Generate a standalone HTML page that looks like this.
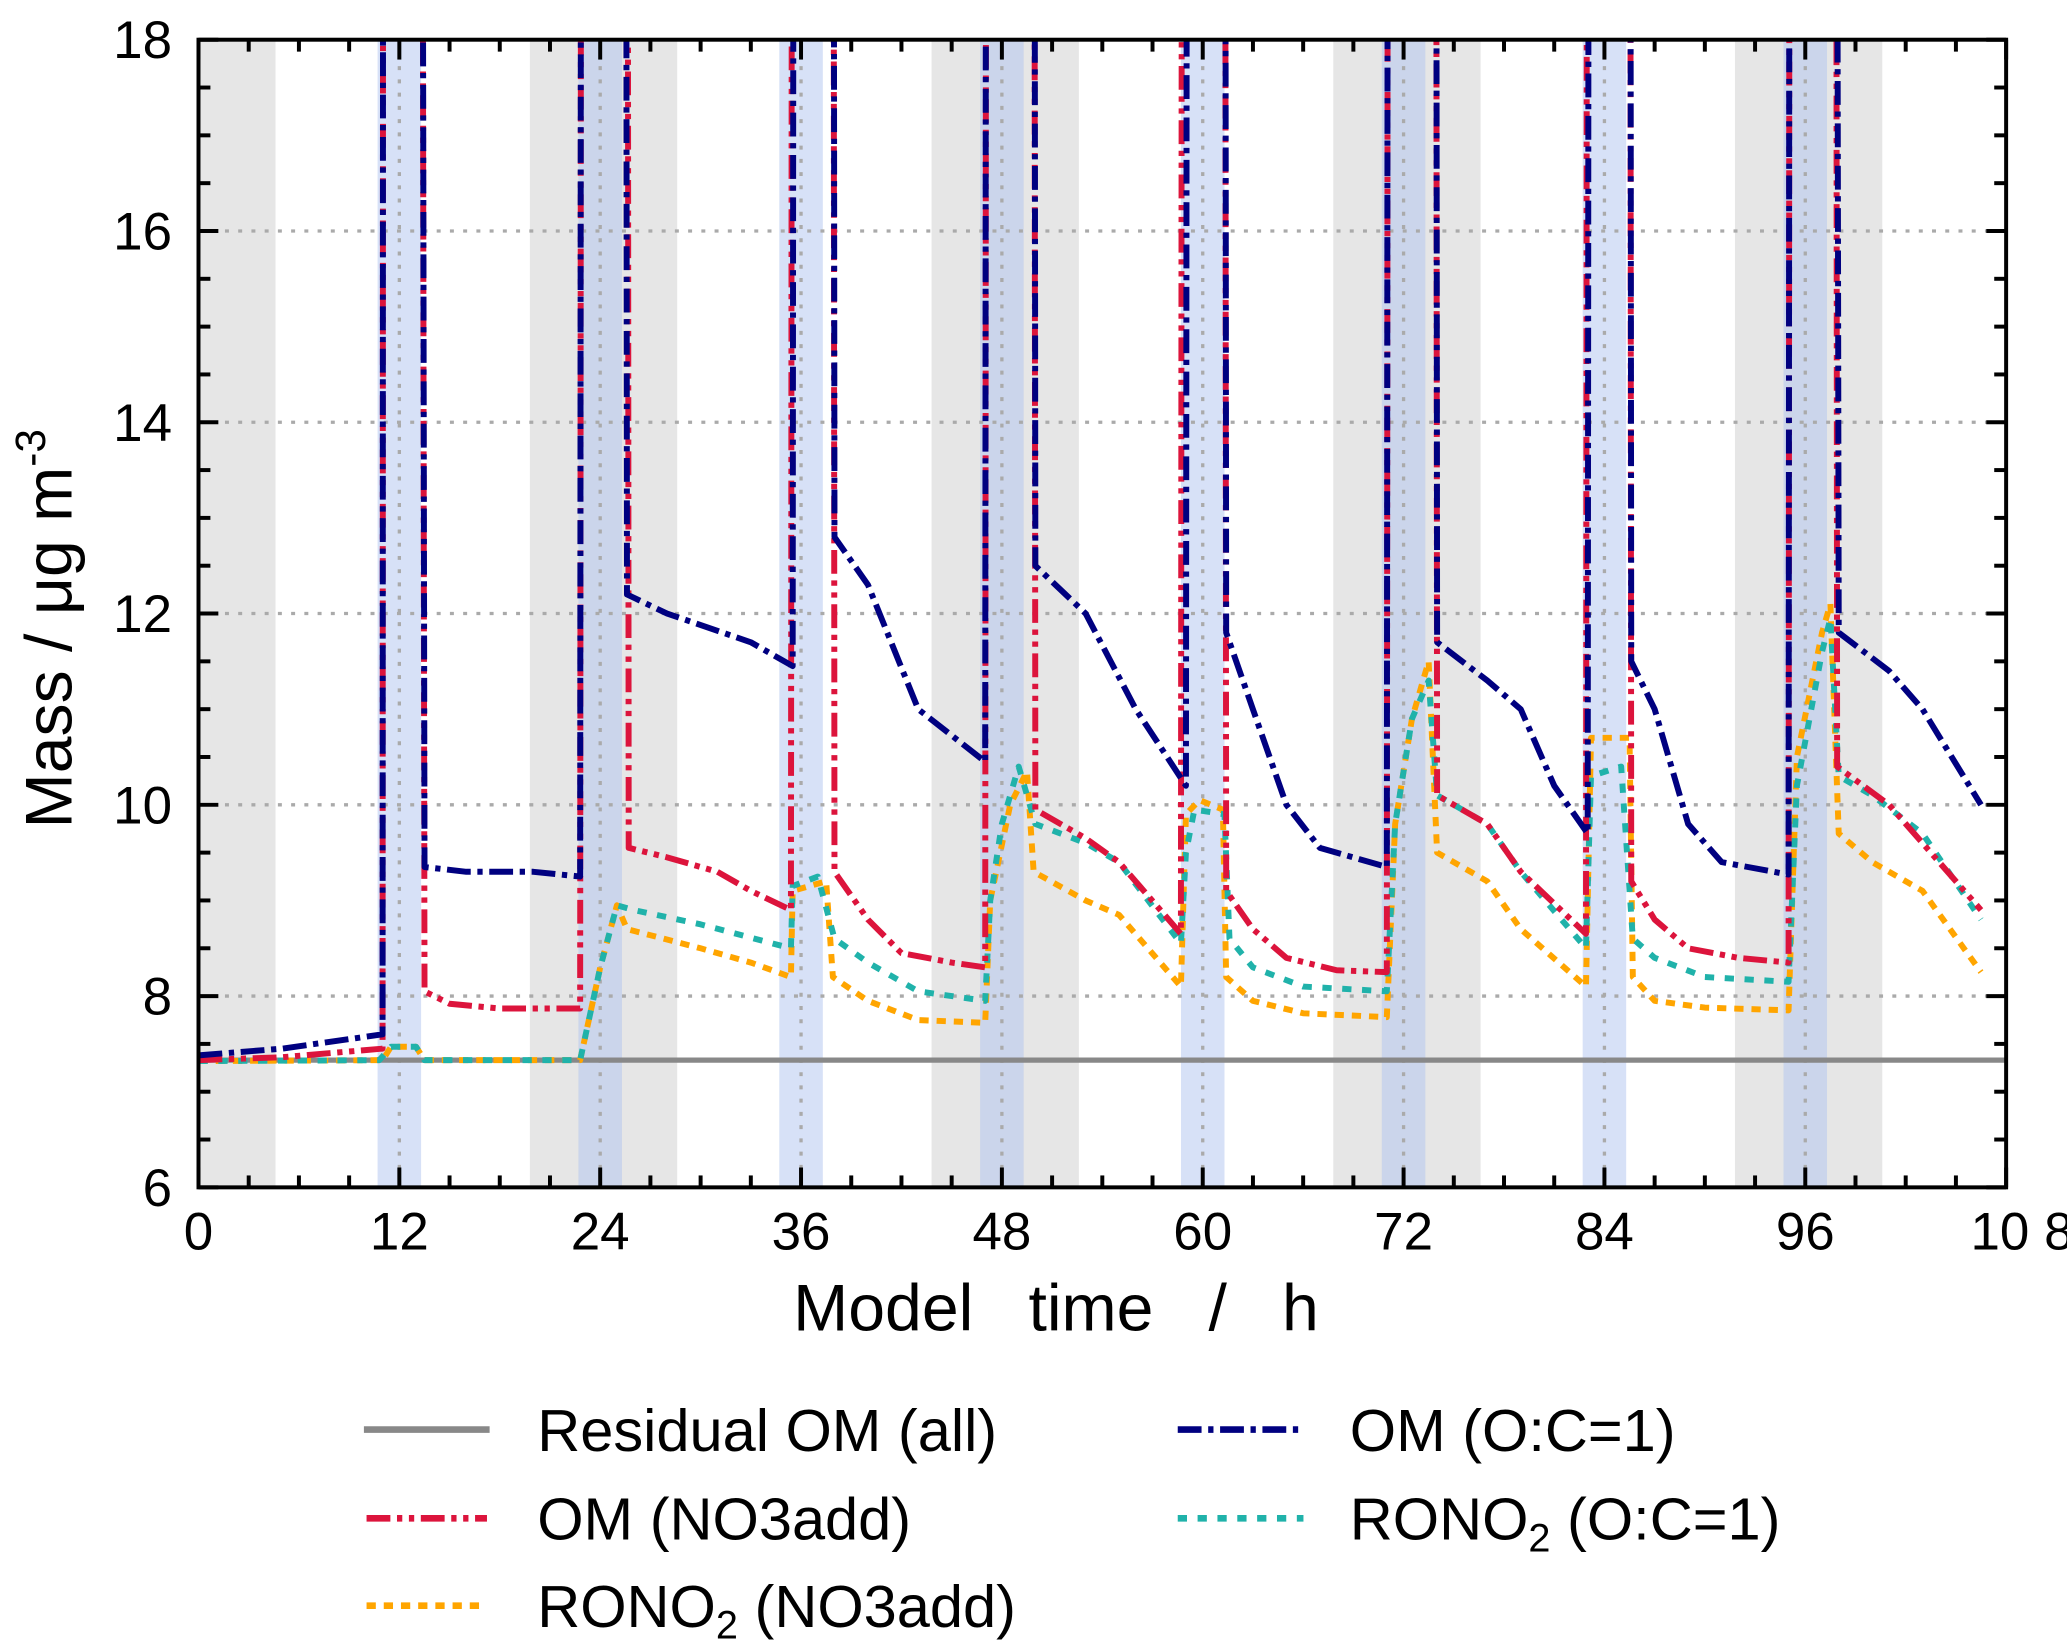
<!DOCTYPE html>
<html><head><meta charset="utf-8">
<style>
html,body{margin:0;padding:0;background:#fff;}
svg{display:block;font-family:"Liberation Sans",Arial,sans-serif;}
</style></head>
<body>
<svg id="chart" width="2067" height="1648" viewBox="0 0 1562 1245" preserveAspectRatio="none" xmlns="http://www.w3.org/2000/svg">
<defs><clipPath id="plotclip"><rect x="150" y="30" width="1366" height="867"/></clipPath></defs>
<g id="bg" clip-path="url(#plotclip)"></g>
<g id="grid"></g>
<g id="series" clip-path="url(#plotclip)"></g>
<g id="axes"></g>
<text x="798" y="1005" font-size="50" text-anchor="middle" style="white-space:pre" xml:space="preserve">Model   time   /   h</text>
<text transform="translate(54,475) rotate(-90)" font-size="50" text-anchor="middle">Mass / μg m<tspan font-size="32" dy="-20">-3</tspan></text>
<g id="legend" font-size="45">
  <g><line x1="275" y1="1080" x2="370" y2="1080" stroke="#888" stroke-width="5"/><text x="406" y="1096">Residual OM (all)</text></g>
  <g><line x1="277" y1="1147" x2="368" y2="1147" stroke="#dc143c" stroke-width="5" stroke-dasharray="18 5 4 5 4 5"/><text x="406" y="1163">OM (NO3add)</text></g>
  <g><line x1="277" y1="1213" x2="368" y2="1213" stroke="#ffa500" stroke-width="5" stroke-dasharray="7 6"/><text x="406" y="1229">RONO<tspan font-size="30" dy="9">2</tspan><tspan dy="-9"> (NO3add)</tspan></text></g>
  <g><line x1="890" y1="1080" x2="985" y2="1080" stroke="#000080" stroke-width="5" stroke-dasharray="18 5 4 5"/><text x="1020" y="1096">OM (O:C=1)</text></g>
  <g><line x1="890" y1="1147" x2="985" y2="1147" stroke="#20b2aa" stroke-width="5" stroke-dasharray="7 8"/><text x="1020" y="1163">RONO<tspan font-size="30" dy="9">2</tspan><tspan dy="-9"> (O:C=1)</tspan></text></g>
</g>
</svg>
<script>
const residual = 7.33;
const nightStarts = [-4.3, 19.8, 43.8, 67.8, 91.8];
const nightEnds = [4.6, 28.6, 52.6, 76.6, 100.6];
const dayCenters = [12, 24, 36, 48, 60, 72, 84, 96];
const yTicks = [6, 8, 10, 12, 14, 16, 18];
const xTicks = [0, 12, 24, 36, 48, 60, 72, 84, 96, 108];
const xTickLabels = ["0", "12", "24", "36", "48", "60", "72", "84", "96", "10 8"];

const omOcT = [0,5,11,11.05,13.3,13.5,16,20,22.8,22.9,25.5,25.6,28,33,35.5,35.6,37.9,38,40,43,47,47.1,49.9,50,53,56,59,59.1,61.3,61.4,63,65,67,71,71.1,73.9,74,77,79,81,83,83.1,85.5,85.6,87,89,91,95,95.1,97.8,98,101,103,106.5];
const omOcV = [7.38,7.45,7.6,30,30,9.35,9.3,9.3,9.25,30,30,12.2,12.0,11.7,11.45,30,30,12.8,12.3,11.0,10.45,30,30,12.5,12.0,11.0,10.2,30,30,11.8,11.0,10.0,9.55,9.35,30,30,11.7,11.3,11.0,10.2,9.7,30,30,11.5,11.0,9.8,9.4,9.27,30,30,11.8,11.4,11.0,10.0];
const omNoT = [0,5,11,11.05,13.3,13.5,15,18,22.8,22.9,25.6,25.7,28,31,33,35.4,35.5,37.9,38,40,42,45,47,47.1,49.9,50,53,55,58.7,58.8,61.3,61.4,63,65,68,71,71.1,73.9,74,77,79,82.9,83,85.5,85.6,87,89,92,95,95.1,97.8,97.9,101,103,106.5];
const omNoV = [7.33,7.36,7.45,30,30,8.05,7.92,7.87,7.87,30,30,9.55,9.45,9.3,9.1,8.9,30,30,9.3,8.8,8.45,8.35,8.3,30,30,9.95,9.65,9.4,8.65,30,30,9.1,8.7,8.4,8.27,8.25,30,30,10.1,9.8,9.3,8.65,30,30,9.2,8.8,8.5,8.4,8.35,30,30,10.4,10.0,9.6,8.9];
const roOcT = [0,10.8,11.5,13,13.5,22.8,24,25,26,30,35.4,35.5,37,38,40,43,47,47.3,48,49,50,53,55,58.7,59,59.5,61.3,61.6,63,66,71,71.5,72.5,73.5,74,77,79,82.9,83.2,85,85.7,87,90,95,95.5,97,97.5,98,100,103,106.5];
const roOcV = [7.32,7.33,7.47,7.47,7.33,7.33,8.3,8.95,8.9,8.75,8.5,9.15,9.25,8.6,8.35,8.05,7.95,9.0,9.8,10.4,9.8,9.6,9.4,8.55,9.5,9.95,9.9,8.6,8.3,8.1,8.05,9.8,10.9,11.3,10.1,9.8,9.3,8.5,10.3,10.4,8.6,8.4,8.2,8.15,10.2,11.6,11.95,10.3,10.1,9.7,8.8];
const roNoT = [0,11,11.5,13,13.5,22.8,24,25,25.6,30,33,35.4,35.5,37.5,37.9,40,43,47,47.3,48.5,49.5,49.9,53,55,58.7,59,59.8,61.2,61.4,63,66,71,71.5,72.5,73.5,74,77,79,82.9,83.2,85.5,85.7,87,90,95,95.5,97,97.5,98,100,103,106.5];
const roNoV = [7.32,7.33,7.47,7.47,7.33,7.33,8.3,8.95,8.7,8.5,8.35,8.2,9.1,9.2,8.2,7.95,7.75,7.72,9.0,10.0,10.35,9.3,9.0,8.85,8.1,9.9,10.05,9.95,8.2,7.95,7.82,7.78,9.8,10.9,11.5,9.5,9.2,8.7,8.1,10.7,10.7,8.2,7.95,7.88,7.85,10.5,11.8,12.1,9.7,9.4,9.1,8.25];

const X0=150,X1=1516,Y0=897,Y1=30;
function xs(t){return X0+(t-0)/(108-0)*(X1-X0);}
function ys(v){return Y0-(v-6)/(18-6)*(Y0-Y1);}
const NS="http://www.w3.org/2000/svg";
function mk(tag,attrs,parent){const e=document.createElementNS(NS,tag);for(const k in attrs)e.setAttribute(k,attrs[k]);parent.appendChild(e);return e;}

const bg=document.getElementById('bg');
nightStarts.forEach((s,i)=>{
  const r=mk('rect',{x:xs(s),y:Y1,width:xs(nightEnds[i])-xs(s),height:Y0-Y1,fill:'#e6e6e6'},bg);
  
  
});
dayCenters.forEach(c=>{
  const r=mk('rect',{x:xs(c-1.3),y:Y1,width:xs(c+1.3)-xs(c-1.3),height:Y0-Y1,fill:'#b0c4f0','fill-opacity':0.5},bg);
  
  
  const l=mk('line',{x1:xs(c),x2:xs(c),y1:Y1,y2:Y0,stroke:'#aaa','stroke-width':2.5,'stroke-dasharray':'3 7'},bg);
  
  
});
const grid=document.getElementById('grid');
[8,10,12,14,16].forEach(v=>{
  const l=mk('line',{x1:X0,x2:X1,y1:ys(v),y2:ys(v),stroke:'#aaa','stroke-width':2.5,'stroke-dasharray':'3 7'},grid);
  
  
});

const ser=document.getElementById('series');
function line(T,V,color,dash,name){
  const d=T.map((t,i)=>(i?'L':'M')+xs(t).toFixed(1)+','+ys(V[i]).toFixed(1)).join(' ');
  const p=mk('path',{d:d,fill:'none',stroke:color,'stroke-width':4.5,'stroke-dasharray':dash,'stroke-linejoin':'round'},ser);
  
  
}
const rl=mk('line',{x1:X0,x2:X1,y1:ys(residual),y2:ys(residual),stroke:'#888','stroke-width':4},ser);


line(roNoT,roNoV,'#ffa500','7 6','rono2-no3add-line');
line(roOcT,roOcV,'#20b2aa','7 8','rono2-oc1-line');
line(omNoT,omNoV,'#dc143c','18 5 4 5 4 5','om-no3add-line');
line(omOcT,omOcV,'#000080','18 5 4 5','om-oc1-line');

const ax=document.getElementById('axes');
const fr=mk('rect',{x:X0,y:Y1,width:X1-X0,height:Y0-Y1,fill:'none',stroke:'#000','stroke-width':3},ax);


for(let v=6;v<=18.001;v+=0.5){
  const major=Math.abs(v-Math.round(v/2)*2)<1e-6;
  const L=major?15:9;
  mk('line',{x1:X0,x2:X0+L,y1:ys(v),y2:ys(v),stroke:'#000','stroke-width':3},ax);
  mk('line',{x1:X1,x2:X1-L,y1:ys(v),y2:ys(v),stroke:'#000','stroke-width':3},ax);
}
for(let t=0;t<=108;t+=3){
  const major=t%12===0;
  const L=major?15:9;
  mk('line',{x1:xs(t),x2:xs(t),y1:Y0,y2:Y0-L,stroke:'#000','stroke-width':3},ax);
  mk('line',{x1:xs(t),x2:xs(t),y1:Y1,y2:Y1+L,stroke:'#000','stroke-width':3},ax);
}
yTicks.forEach(v=>{
  const t=mk('text',{x:X0-20,y:ys(v)+14,'font-size':40,'text-anchor':'end'},ax);
  t.textContent=v;
  
  
});
xTicks.forEach((v,i)=>{
  const t=mk('text',{x:xs(v)+(i===9?12:0),y:Y0+47,'font-size':40,'text-anchor':'middle'},ax);
  t.setAttribute('xml:space','preserve');
  t.style.whiteSpace='pre';
  t.textContent=xTickLabels[i];
  
  
});
</script>
</body></html>
